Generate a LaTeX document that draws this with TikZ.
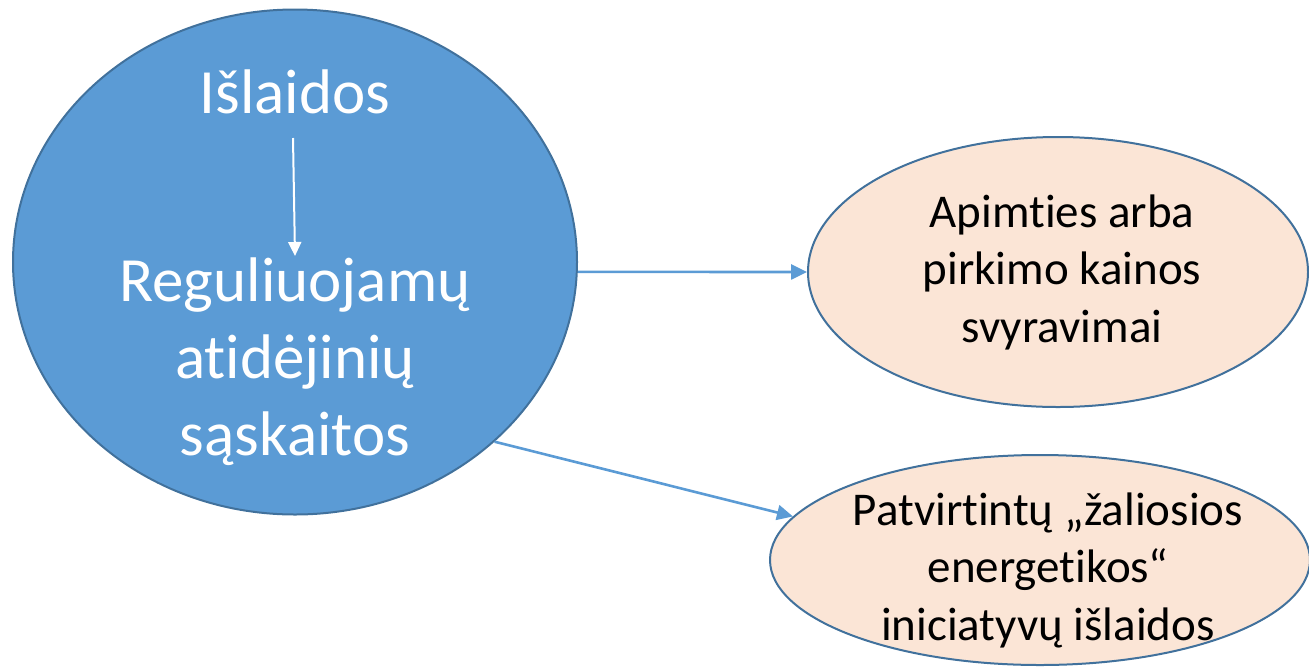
\documentclass[tikz,border=0pt]{standalone}
\usepackage{fontspec}
\setmainfont{Carlito}[Ligatures=NoCommon]
\usetikzlibrary{shapes.geometric,arrows.meta}
\definecolor{mainblue}{HTML}{5B9BD5}
\definecolor{edgeblue}{HTML}{41719C}
\definecolor{peach}{HTML}{FBE5D6}
\tikzset{
  bigoval/.style={ellipse,draw=edgeblue,fill=mainblue,line width=2pt,inner sep=0pt,minimum width=564pt,minimum height=505pt},
  smalloval/.style={ellipse,draw=edgeblue,fill=peach,line width=2pt,inner sep=0pt},
  bigtext/.style={text=white,align=center,font=\fontsize{63}{77}\selectfont},
  smalltext/.style={text=black,align=center,font=\fontsize{47}{57.5}\selectfont},
  conn/.style={draw=mainblue,line width=2.6pt,-{Triangle[length=16pt,width=15pt]}},
  inner/.style={draw=white,line width=2pt,-{Triangle[length=14pt,width=13pt]}}
}
\begin{document}
\begin{tikzpicture}[x=1pt,y=-1pt]
\useasboundingbox (0,0) rectangle (1309,670);
\node[bigoval] (main) at (295,262) {};
\node[smalloval,minimum width=500pt,minimum height=270pt] (n1) at (1058,272) {};
\node[smalloval,minimum width=540pt,minimum height=210pt] (n2) at (1040,560) {};
\node[bigtext] (t0) at (295,92) {Išlaidos};
\node[bigtext] (t1) at (295,362) {Reguliuojamų\\atidėjinių\\sąskaitos};
\node[smalltext] (t2) at (1062,272) {Apimties arba\\pirkimo kainos\\svyravimai};
\node[smalltext] (t3) at (1048,570) {Patvirtintų „žaliosios\\energetikos“\\iniciatyvų išlaidos};
\coordinate (a0) at (293,138);
\coordinate (a1) at (295,256);
\draw[inner] (a0) -- (a1);
\draw[conn] (main.-2) -- (n1.west);
\draw[conn] (main.-42) -- (n2.170);
\end{tikzpicture}
\end{document}
